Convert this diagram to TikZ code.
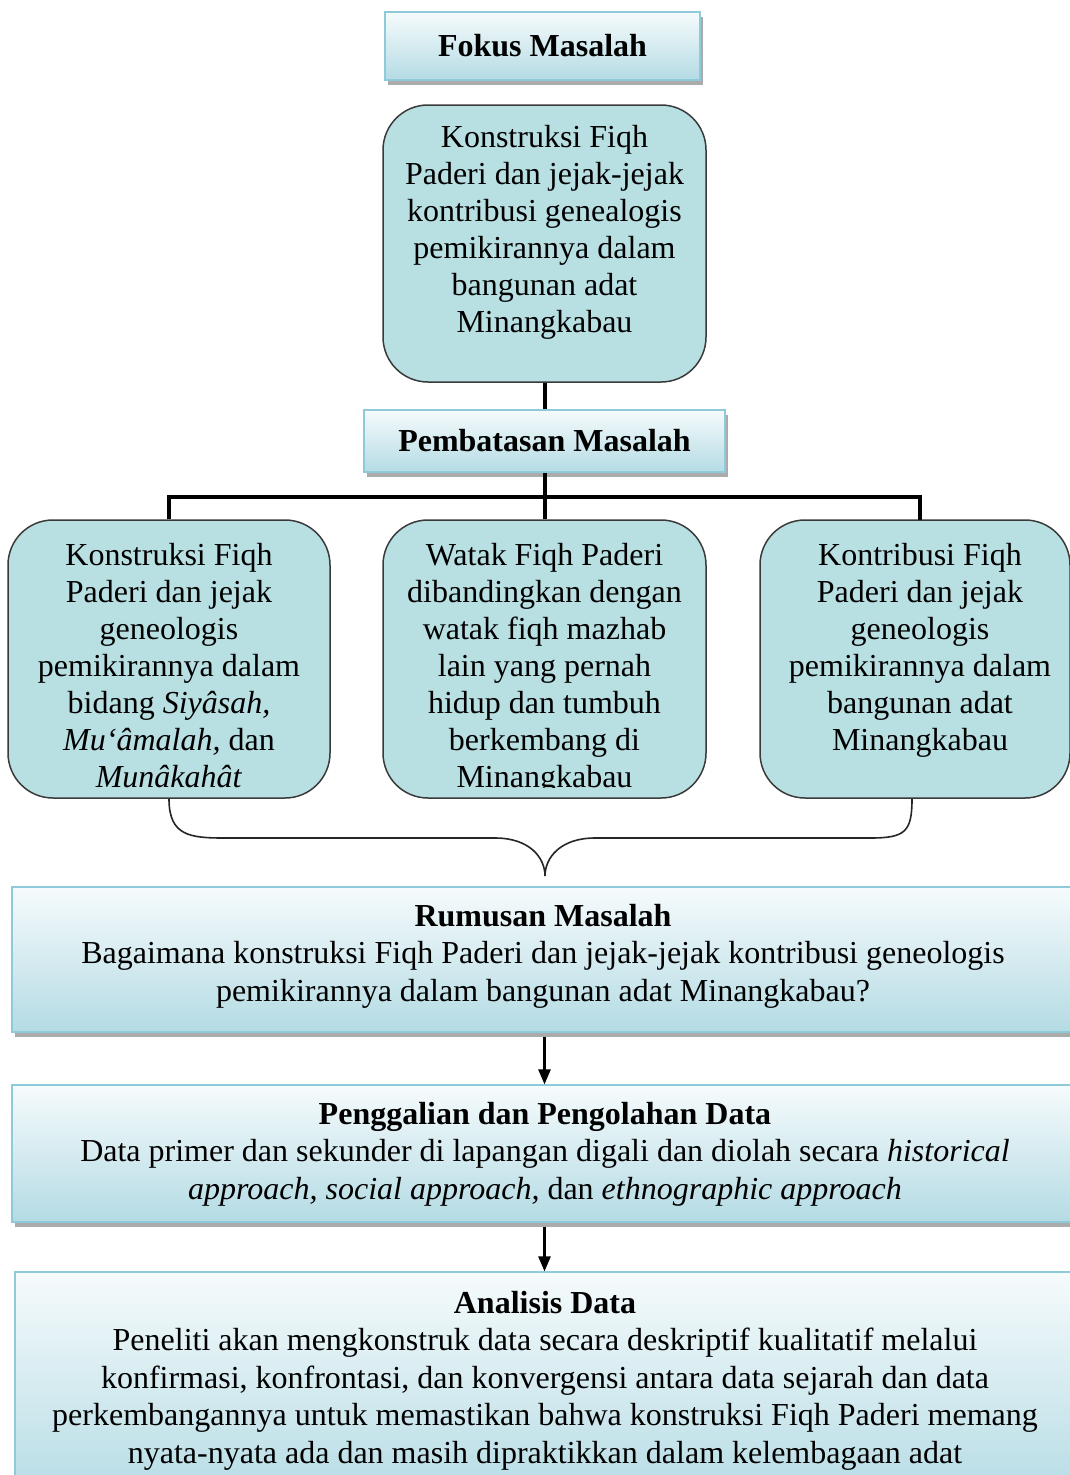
\documentclass[tikz,border=0pt]{standalone}
\usepackage{fontspec}
\setmainfont{Liberation Serif}
\usetikzlibrary{shadows,arrows.meta}
\definecolor{tealfill}{HTML}{B8DFE2}
\definecolor{gradtop}{HTML}{F6FBFC}
\definecolor{gradbot}{HTML}{B4DBE4}
\definecolor{gradline}{HTML}{8FCADA}
\definecolor{roundline}{HTML}{3A3A3A}
\tikzset{
  gradbox/.style={rectangle, top color=gradtop, bottom color=gradbot, draw=gradline, line width=1.2pt,
    drop shadow={shadow xshift=3pt, shadow yshift=-5pt, fill=gray!80!black, opacity=0.55}, inner sep=0pt},
  roundbox/.style={rectangle, rounded corners=45pt, fill=tealfill, draw=roundline, line width=1.5pt, inner sep=0pt},
  bigtxt/.style={align=center, inner sep=0pt, font=\fontsize{32}{37}\selectfont},
  lowtxt/.style={align=center, inner sep=0pt, font=\fontsize{32}{37.5}\selectfont},
  conn/.style={line width=4pt},
  arr/.style={line width=2.5pt, -{Triangle[length=15pt,width=12pt]}},
  bracestyle/.style={line width=1.6pt, draw=black!85}
}
\begin{document}
\begin{tikzpicture}[x=1pt,y=-1pt]
\useasboundingbox (0,0) rectangle (1070,1475);
\fill[white] (0,0) rectangle (1070,1475);

% Fokus Masalah
\node[gradbox, minimum width=315pt, minimum height=68pt, font=\fontsize{32}{37}\selectfont\bfseries] (fokus) at (542.5,46) {Fokus Masalah};

% top rounded box
\node[roundbox, minimum width=323pt, minimum height=277pt] (top) at (544.5,243.5) {};
\node[bigtxt, anchor=north] (toptxt) at (544.5,125) {Konstruksi Fiqh\\Paderi dan jejak-jejak\\kontribusi genealogis\\pemikirannya dalam\\bangunan adat\\Minangkabau};

% Pembatasan
\node[gradbox, minimum width=361pt, minimum height=62pt, font=\fontsize{32}{37}\selectfont\bfseries] (pb) at (544.5,441) {Pembatasan Masalah};

% three boxes
\node[roundbox, minimum width=322pt, minimum height=278pt] (b1) at (169,659) {};
\node[roundbox, minimum width=323pt, minimum height=278pt] (b2) at (544.5,659) {};
\node[roundbox, minimum width=310pt, minimum height=278pt] (b3) at (915,659) {};

\begin{scope}
\clip (8,520) rectangle (330,789);
\node[bigtxt, anchor=north] (b1txt) at (169,543) {Konstruksi Fiqh\\Paderi dan jejak\\geneologis\\pemikirannya dalam\\bidang \textit{Siyâsah,}\\\textit{Mu‘âmalah,} dan\\\textit{Munâkahât}};
\end{scope}
\begin{scope}
\clip (383,520) rectangle (706,787);
\node[bigtxt, anchor=north] (b2txt) at (544.5,543) {Watak Fiqh Paderi\\dibandingkan dengan\\watak fiqh mazhab\\lain yang pernah\\hidup dan tumbuh\\berkembang di\\Minangkabau};
\end{scope}
\node[bigtxt, anchor=north] (b3txt) at (920,543) {Kontribusi Fiqh\\Paderi dan jejak\\geneologis\\pemikirannya dalam\\bangunan adat\\Minangkabau};

% connectors
\draw[conn] (top.south) -- (pb.north);
\coordinate (junc) at (544.5,497);
\coordinate (rdrop) at (920,520);
\draw[conn] (pb.south) -- (junc);
\draw[conn] (b1.north) |- (junc) -| (rdrop);
\draw[conn] (junc) -- (b2.north);

% brace
\coordinate (tip) at (545,876);
\draw[bracestyle] (b1.south) .. controls (169,836) and (190,838) .. (225,838)
  -- (495,838) .. controls (530,838) and (545,858) .. (tip)
  .. controls (545,858) and (560,838) .. (595,838)
  -- (870,838) .. controls (905,838) and (912,832) .. (912,799);

% Rumusan
\node[gradbox, minimum width=1064pt, minimum height=145pt] (rm) at (544,959.5) {};
\node[lowtxt, anchor=north] (rmtxt) at (543,904) {\textbf{Rumusan Masalah}\\Bagaimana konstruksi Fiqh Paderi dan jejak-jejak kontribusi geneologis\\pemikirannya dalam bangunan adat Minangkabau?};

% Penggalian
\node[gradbox, minimum width=1064pt, minimum height=137pt] (pg) at (544,1153.5) {};
\node[lowtxt, anchor=north] (pgtxt) at (545,1102) {\textbf{Penggalian dan Pengolahan Data}\\Data primer dan sekunder di lapangan digali dan diolah secara \textit{historical}\\\textit{approach, social approach,} dan \textit{ethnographic approach}};

% Analisis
\node[gradbox, minimum width=1062pt, minimum height=230pt] (an) at (546,1387) {};
\node[lowtxt, anchor=north] (antxt) at (545,1291) {\textbf{Analisis Data}\\Peneliti akan mengkonstruk data secara deskriptif kualitatif melalui\\konfirmasi, konfrontasi, dan konvergensi antara data sejarah dan data\\perkembangannya untuk memastikan bahwa konstruksi Fiqh Paderi memang\\nyata-nyata ada dan masih dipraktikkan dalam kelembagaan adat};

% arrows
\draw[arr] ([yshift=-4pt]rm.south -| junc) -- (pg.north -| junc);
\draw[arr] ([yshift=-4pt]pg.south -| junc) -- (an.north -| junc);
\end{tikzpicture}
\end{document}
